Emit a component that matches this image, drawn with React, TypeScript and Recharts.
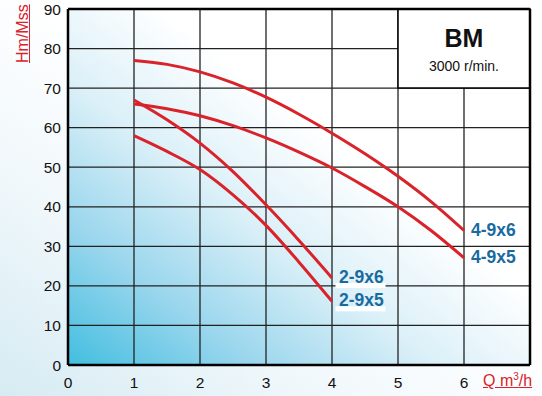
import React from 'react';
import {
  LineChart, Line, XAxis, YAxis, CartesianGrid, ReferenceArea, ReferenceLine,
} from 'recharts';

const flowQ = [1, 1.5, 2, 2.5, 3, 3.5, 4, 4.5, 5, 5.5, 6];
const s49x6 = [77, 76, 74.1, 71.3, 67.7, 63.4, 58.6, 53.4, 47.7, 41.3, 34];
const s49x5 = [66, 64.8, 63, 60.5, 57.4, 53.8, 49.8, 45.1, 40, 34, 27.1];
const s29x6 = [67, 62, 56.1, 48.9, 40.5, 31.5, 22, null, null, null, null];
const s29x5 = [58, 54, 49.4, 43, 35.3, 26, 16.1, null, null, null, null];
const seriesNames = ['4-9x6', '4-9x5', '2-9x6', '2-9x5'];
const xTicks = [0, 1, 2, 3, 4, 5, 6];
const yTicks = [0, 10, 20, 30, 40, 50, 60, 70, 80, 90];

const data = flowQ.map((q, i) => ({
  q,
  a: s49x6[i],
  b: s49x5[i],
  c: s29x6[i],
  d: s29x5[i],
}));

const RED = '#d9222a';
const BLUE = '#1a6aa2';
const FONT = '"Liberation Sans", Arial, sans-serif';

const makeEndLabel = (name: string, lastIndex: number) => (props: any) => {
  const { x, y, index } = props;
  if (index !== lastIndex) return null;
  return (
    <g>
      <rect x={x + 3.5} y={y + 5} width={50} height={5} fill="#ffffff" />
      <text x={x + 7} y={y - 1} fill={BLUE} fontFamily={FONT} fontWeight="bold"
        fontSize={17.5} dominantBaseline="central">{name}</text>
    </g>
  );
};

const BoxLabel = (props: any) => {
  const { viewBox } = props;
  const cx = viewBox.x + viewBox.width / 2;
  return (
    <g>
      <text x={cx} y={viewBox.y + 38} textAnchor="middle" fontFamily={FONT}
        fontWeight="bold" fontSize={25} fill="#111">BM</text>
      <text x={cx} y={viewBox.y + 62} textAnchor="middle" fontFamily={FONT}
        fontSize={14} fill="#111">3000 r/min.</text>
    </g>
  );
};

export default function App() {
  return (
    <div style={{
      position: 'fixed', left: 0, top: 0, width: 542, height: 396, overflow: 'hidden',
      background: 'linear-gradient(35deg, #d6ebf3 0%, #f1f8fb 30%, #ffffff 55%)',
    }}>
      <LineChart width={542} height={396} data={data}
        margin={{ top: 9, right: 12, bottom: 0, left: 0 }}>
        <defs>
          <linearGradient id="plotBg" x1="0" y1="1" x2="0.8" y2="0.2">
            <stop offset="0" stopColor="#42bee0" />
            <stop offset="0.25" stopColor="#9ad6ed" />
            <stop offset="0.5" stopColor="#dbf0f8" />
            <stop offset="0.75" stopColor="#ffffff" />
            <stop offset="1" stopColor="#ffffff" />
          </linearGradient>
        </defs>
        <CartesianGrid stroke="#222" strokeWidth={1.3} fill="url(#plotBg)" fillOpacity={1} />
        <XAxis dataKey="q" type="number" domain={[0, 7]} ticks={xTicks} height={31}
          axisLine={{ stroke: '#000', strokeWidth: 2.5 }} tickLine={false}
          tickSize={10} tickMargin={2}
          tick={{ fill: '#111', fontSize: 15.5, fontFamily: FONT }} interval={0} />
        <YAxis type="number" domain={[0, 90]} ticks={yTicks} width={68}
          axisLine={{ stroke: '#000', strokeWidth: 2.5 }} tickLine={false}
          tickSize={5} tickMargin={2}
          tick={{ fill: '#111', fontSize: 15.5, fontFamily: FONT }} interval={0} />
        <ReferenceLine x={7} stroke="#000" strokeWidth={2.5} />
        <ReferenceLine y={90} stroke="#000" strokeWidth={2.5} />
        <ReferenceArea x1={5} x2={7} y1={70} y2={90} fill="#ffffff" fillOpacity={1}
          stroke="#000" strokeWidth={1.5} label={<BoxLabel />} />
        <Line dataKey="a" type="monotone" stroke={RED} strokeWidth={3} dot={false}
          isAnimationActive={false} label={makeEndLabel(seriesNames[0], s49x6.length - 1)} />
        <Line dataKey="b" type="monotone" stroke={RED} strokeWidth={3} dot={false}
          isAnimationActive={false} label={makeEndLabel(seriesNames[1], s49x5.length - 1)} />
        <Line dataKey="c" type="monotone" stroke={RED} strokeWidth={3} dot={false}
          isAnimationActive={false} label={makeEndLabel(seriesNames[2], 6)} />
        <Line dataKey="d" type="monotone" stroke={RED} strokeWidth={3} dot={false}
          isAnimationActive={false} label={makeEndLabel(seriesNames[3], 6)} />
      </LineChart>
      <div style={{
        position: 'absolute', left: 14, top: 63, transformOrigin: '0 0',
        transform: 'rotate(-90deg)', color: RED, fontFamily: FONT, fontSize: 16,
        textDecoration: 'underline', whiteSpace: 'nowrap', lineHeight: '17px',
      }}>Hm/Mss</div>
      <div style={{
        position: 'absolute', left: 483, top: 372, color: RED, fontFamily: FONT,
        fontSize: 16, textDecoration: 'underline', whiteSpace: 'nowrap', lineHeight: '18px',
      }}>Q m<sup style={{ fontSize: 10, verticalAlign: 'top', lineHeight: '10px' }}>3</sup>/h</div>
    </div>
  );
}
